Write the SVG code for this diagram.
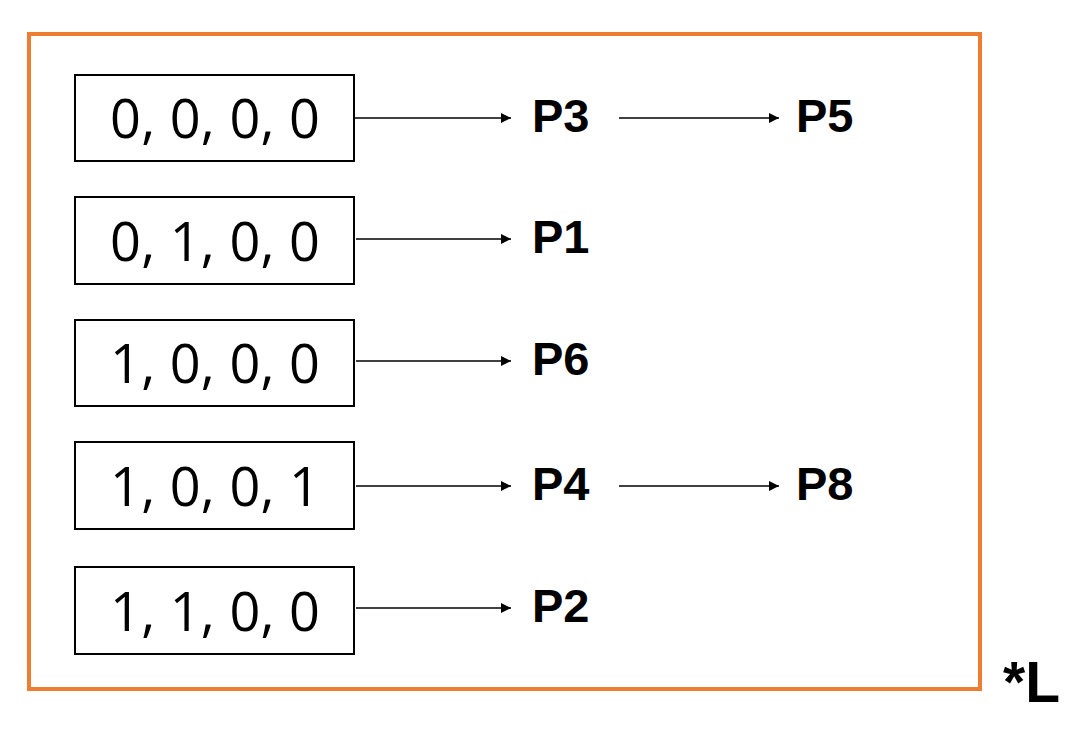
<svg xmlns="http://www.w3.org/2000/svg" width="1080" height="729" viewBox="0 0 1080 729">
<defs>
<marker id="ah" viewBox="0 0 10 10" refX="10" refY="5" markerWidth="10" markerHeight="10" markerUnits="userSpaceOnUse" orient="auto"><path d="M0,0 L10,5 L0,10 Z" fill="#000"/></marker>
<style>
.box{fill:#fff;stroke:#000;stroke-width:2}
.num{font-family:"Open Sans","DejaVu Sans",sans-serif;font-weight:400;font-size:54px;fill:#000;text-anchor:middle}
.lbl{font-family:"Liberation Sans",Arial,sans-serif;font-weight:bold;font-size:47px;fill:#000}
.arr{stroke:#000;stroke-width:1.3;fill:none;marker-end:url(#ah)}
</style>
</defs>
<rect x="0" y="0" width="1080" height="729" fill="#fff"/>
<rect id="frame" x="29" y="34" width="951" height="655" fill="none" stroke="#ED7D31" stroke-width="4"/>
<g id="n1"><rect class="box" x="75" y="75" width="279" height="86"/><text class="num" x="215" y="138" textLength="210" lengthAdjust="spacing">0, 0, 0, 0</text></g>
<g id="n2"><rect class="box" x="75" y="197" width="279" height="87"/><text class="num" x="215" y="261" textLength="210" lengthAdjust="spacing">0, 1, 0, 0</text></g>
<g id="n3"><rect class="box" x="75" y="320" width="279" height="86"/><text class="num" x="215" y="383" textLength="210" lengthAdjust="spacing">1, 0, 0, 0</text></g>
<g id="n4"><rect class="box" x="75" y="442" width="279" height="87"/><text class="num" x="215" y="506" textLength="210" lengthAdjust="spacing">1, 0, 0, 1</text></g>
<g id="n5"><rect class="box" x="75" y="567" width="279" height="87"/><text class="num" x="215" y="631" textLength="210" lengthAdjust="spacing">1, 1, 0, 0</text></g>
<g id="p3"><text class="lbl" x="532" y="132">P3</text></g>
<g id="p5"><text class="lbl" x="796" y="132">P5</text></g>
<g id="p1"><text class="lbl" x="532" y="253">P1</text></g>
<g id="p6"><text class="lbl" x="532" y="375">P6</text></g>
<g id="p4"><text class="lbl" x="532" y="500">P4</text></g>
<g id="p8"><text class="lbl" x="796" y="500">P8</text></g>
<g id="p2"><text class="lbl" x="532" y="622">P2</text></g>
<g id="connectors">
<line class="arr" x1="355" y1="118" x2="511" y2="118"/>
<line class="arr" x1="619" y1="118" x2="779" y2="118"/>
<line class="arr" x1="356" y1="239" x2="511" y2="239"/>
<line class="arr" x1="356" y1="361" x2="511" y2="361"/>
<line class="arr" x1="356" y1="486" x2="511" y2="486"/>
<line class="arr" x1="619" y1="486" x2="779" y2="486"/>
<line class="arr" x1="356" y1="608" x2="511" y2="608"/>
</g>
<text class="lbl" x="1003" y="702" style="font-size:57px">*L</text>
</svg>
